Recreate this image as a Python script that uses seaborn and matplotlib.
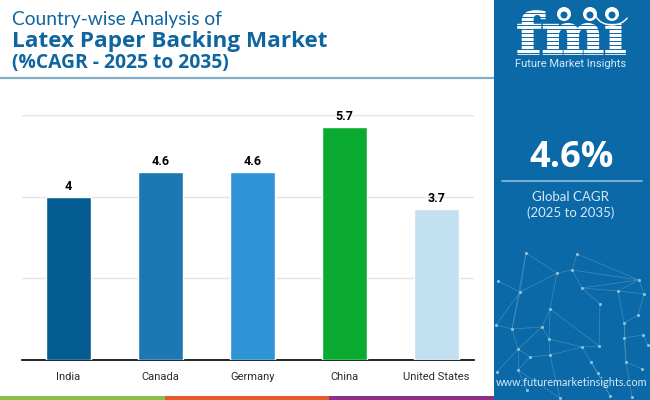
import matplotlib
matplotlib.use("Agg")
import matplotlib.pyplot as plt
import pandas as pd
import seaborn as sns
from matplotlib.font_manager import FontProperties
from matplotlib.patches import Arc, Circle, PathPatch, Rectangle
from matplotlib.textpath import TextPath
from matplotlib.transforms import Affine2D

countries = ["India", "Canada", "Germany", "China", "United States"]
cagr = [4, 4.6, 4.6, 5.7, 3.7]
value_labels = ["4", "4.6", "4.6", "5.7", "3.7"]
bar_colors = ["#045c93", "#1c77b2", "#2f94d6", "#0bab32", "#c3e0f2"]
y_ticks = [0, 2, 4, 6]

title_lines = ["Country-wise Analysis of", "Latex Paper Backing Market", "(%CAGR - 2025 to 2035)"]
global_cagr = "4.6%"

PANEL = "#0b69a8"
TITLE_BLUE = "#0f659f"

# noeuds du reseau decoratif (pixels image)
net_nodes = [
    (526, 253), (577, 254), (557, 273), (572, 270), (639, 280), (498, 281),
    (520, 292), (582, 288), (618, 291), (644, 294), (600, 304), (550, 309),
    (638, 315), (624, 323), (512, 329), (542, 327), (549, 339), (599, 346),
    (582, 347), (624, 338), (643, 335), (518, 349), (530, 357), (550, 355),
    (591, 362), (626, 362), (518, 370), (642, 369), (598, 373), (527, 390),
    (496, 325), (497, 372), (610, 396), (632, 397), (560, 398), (648, 345),
]
net_edges = [
    (0, 6), (0, 2), (1, 3), (2, 3), (3, 4), (2, 6), (5, 6), (3, 7), (7, 4),
    (7, 8), (8, 4), (8, 9), (4, 9), (7, 10), (2, 11), (10, 17), (11, 15),
    (11, 17), (6, 14), (14, 15), (15, 16), (16, 18), (18, 17), (14, 21),
    (21, 22), (22, 23), (23, 18), (23, 16), (18, 24), (8, 13), (13, 12),
    (12, 9), (13, 19), (19, 20), (19, 25), (25, 27), (21, 26), (26, 29),
    (22, 26), (24, 28), (15, 21), (0, 14), (13, 25), (1, 4), (30, 14),
    (31, 21), (26, 34), (28, 32), (25, 33), (20, 35), (6, 30), (11, 16),
    (23, 34), (24, 32),
]

df = pd.DataFrame({"country": countries, "cagr": cagr})

sns.set_theme(style="white")
plt.rcParams["font.family"] = ["Roboto", "DejaVu Sans"]

fig = plt.figure(figsize=(6.5, 4), dpi=100, facecolor="white")
W, H = 650, 400
ax = fig.add_axes([22 / W, 1 - 360 / H, (474 - 22) / W, (360 - 115) / H])

sns.barplot(
    data=df, x="country", y="cagr", hue="country", palette=bar_colors,
    order=countries, hue_order=countries, width=0.49, saturation=1,
    legend=False, ax=ax, zorder=3,
)
ax.set_xlim(-0.505, 4.41)
ax.set_ylim(0, 6)
ax.set_yticks(y_ticks)
ax.set_xlabel("")
ax.set_ylabel("")
ax.tick_params(axis="y", left=False, labelleft=False)
ax.tick_params(axis="x", bottom=False, labelsize=8, colors="#2b2b2b", pad=3)
ax.grid(axis="y", color="#e4e4e4", linewidth=1)
ax.set_axisbelow(True)
sns.despine(ax=ax, left=True)
ax.spines["bottom"].set_color("black")
ax.spines["bottom"].set_linewidth(1.2)
ax.spines["top"].set_visible(False)

for i, (v, lab) in enumerate(zip(cagr, value_labels)):
    ax.annotate(lab, (i, v), xytext=(0, 3), textcoords="offset points", ha="center",
                va="bottom", fontsize=9, fontweight="bold", color="black", zorder=4)

# calque en pixels pour le bandeau, le titre et le panneau droit
deco = fig.add_axes([0, 0, 1, 1], zorder=5)
deco.set_xlim(0, W)
deco.set_ylim(H, 0)
deco.axis("off")
deco.patch.set_alpha(0)

deco.add_patch(Rectangle((494, 0), 156, 400, color=PANEL, lw=0))
deco.plot([0, 494], [78, 78], color="#85aec8", lw=1.6, solid_capstyle="butt")
for x0, x1, c in [(0, 165, "#8cbf45"), (165, 329, "#e55b2b"), (329, 494, "#8c2f85")]:
    deco.add_patch(Rectangle((x0, 396), x1 - x0, 4, color=c, lw=0))

deco.text(12, 20, title_lines[0], fontsize=13.8, color=TITLE_BLUE, family="Lato", va="center")
deco.text(12, 42, title_lines[1], fontsize=16.2, color=TITLE_BLUE, family="Open Sans",
          fontweight="bold", va="center")
deco.text(12, 63, title_lines[2], fontsize=13.9, color=TITLE_BLUE, family="Open Sans",
          fontweight="bold", va="center")

# reseau
for a, b in net_edges:
    deco.plot([net_nodes[a][0], net_nodes[b][0]], [net_nodes[a][1], net_nodes[b][1]],
              color="#5ea3cc", lw=0.5, alpha=0.6, zorder=1, clip_on=True)
deco.scatter([n[0] for n in net_nodes], [n[1] for n in net_nodes], s=5, color="#8dbfd8", lw=0, zorder=2)

# logo : lettres dessinees comme une image, ramenees a la boite x 517-626, y 10-55
logo = TextPath((0, 0), "fm\u0131", size=10, prop=FontProperties(family="DejaVu Serif", weight="bold"))
box = logo.get_extents()
sx = (625 - 518) / box.width
sy = (54 - 11) / box.height
logo_tf = Affine2D().translate(-box.x0, -box.y0).scale(sx, -sy).translate(518, 54)
deco.add_patch(PathPatch(logo.transformed(logo_tf), facecolor="white", edgecolor="white", lw=1.2, zorder=3))
for y in range(13, 56, 4):
    deco.plot([512, 630], [y, y], color=PANEL, lw=0.7, zorder=4)
for cx, cy in [(564, 14), (590, 14), (612, 14)]:
    deco.add_patch(Circle((cx, cy), 7, color="white", lw=0, zorder=5))
    deco.add_patch(Circle((cx, cy + 1), 3.5, color=PANEL, lw=0, zorder=6))
deco.add_patch(Arc((612, 12), 34, 26, theta1=20, theta2=165, color="white", lw=1, zorder=5))
deco.text(571, 64, "Future Market Insights", fontsize=8, color="#d5e9f5", ha="center", va="center",
          family="Roboto", zorder=6)

deco.text(572, 158, global_cagr, fontsize=26, fontweight="bold", color="white", family="Open Sans",
          ha="center", va="center", zorder=6)
deco.plot([502, 642], [181, 181], color="#8fbfdc", lw=1.2, zorder=6)
deco.text(570, 197, "Global CAGR", fontsize=9.5, color="#d5e9f5", family="Lato", ha="center", va="center", zorder=6)
deco.text(571, 213, "(2025 to 2035)", fontsize=9.5, color="#d5e9f5", family="Lato", ha="center", va="center", zorder=6)
deco.text(572, 383, "www.futuremarketinsights.com", fontsize=7.8, color="#d5e9f5", family="Lato",
          ha="center", va="center", zorder=6)

fig.savefig("out.png", dpi=100, facecolor="white")
